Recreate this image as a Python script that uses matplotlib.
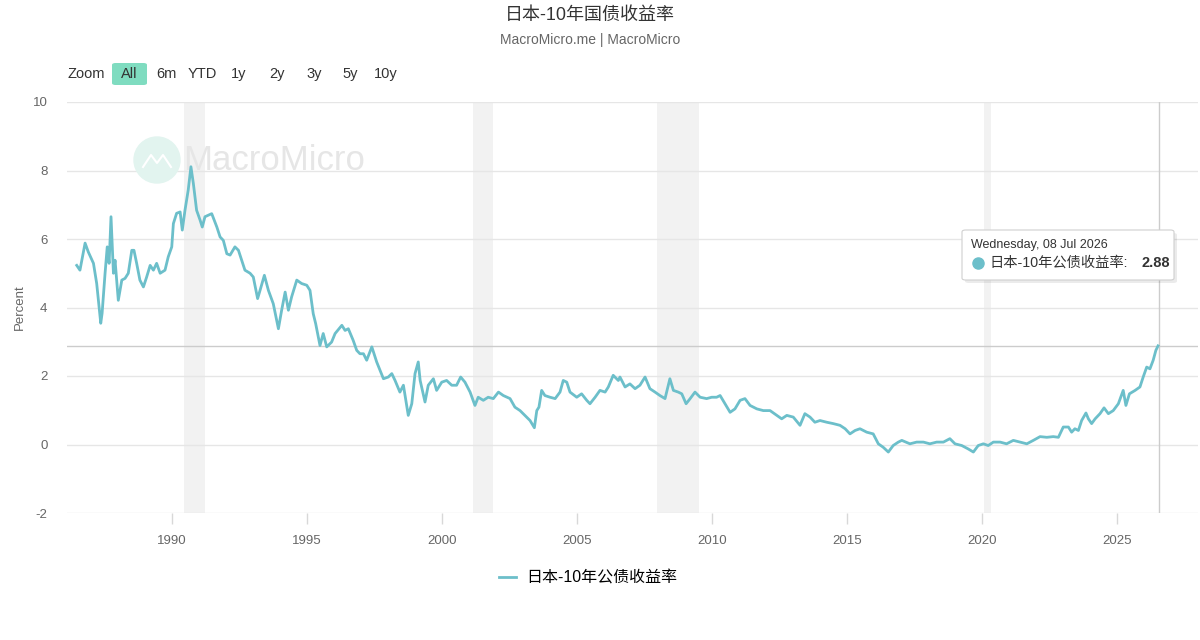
import matplotlib
matplotlib.use("Agg")
import matplotlib.pyplot as plt
from matplotlib.patches import FancyBboxPatch, Ellipse
from matplotlib.lines import Line2D

# decimal year / yield (%)
yrs = [1986.47, 1986.59, 1986.78, 1986.90, 1987.09, 1987.21, 1987.36, 1987.41, 1987.52, 1987.60,
       1987.67, 1987.74, 1987.83, 1987.89, 1988.01, 1988.14, 1988.26, 1988.38, 1988.51, 1988.59,
       1988.69, 1988.81, 1988.94, 1989.06, 1989.19, 1989.31, 1989.43, 1989.56, 1989.74, 1989.86,
       1989.99, 1990.05, 1990.17, 1990.30, 1990.38, 1990.48, 1990.60, 1990.70, 1990.79, 1990.91,
       1991.04, 1991.12, 1991.22, 1991.47, 1991.66, 1991.78, 1991.90, 1992.03, 1992.15, 1992.33,
       1992.46, 1992.58, 1992.70, 1992.89, 1993.01, 1993.17, 1993.26, 1993.42, 1993.57, 1993.75,
       1993.94, 1994.06, 1994.19, 1994.31, 1994.43, 1994.62, 1994.80, 1994.99, 1995.11, 1995.23,
       1995.32, 1995.48, 1995.60, 1995.73, 1995.91, 1996.04, 1996.29, 1996.41, 1996.53, 1996.71,
       1996.84, 1996.96, 1997.09, 1997.21, 1997.40, 1997.58, 1997.83, 1998.01, 1998.14, 1998.26,
       1998.44, 1998.57, 1998.75, 1998.88, 1999.00, 1999.12, 1999.19, 1999.37, 1999.49, 1999.68,
       1999.80, 1999.99, 2000.17, 2000.36, 2000.54, 2000.69, 2000.85, 2001.04, 2001.22, 2001.34,
       2001.53, 2001.71, 2001.90, 2002.09, 2002.27, 2002.52, 2002.70, 2002.89, 2003.07, 2003.26,
       2003.42, 2003.51, 2003.59, 2003.69, 2003.81, 2004.00, 2004.19, 2004.37, 2004.49, 2004.62,
       2004.74, 2004.99, 2005.17, 2005.36, 2005.48, 2005.67, 2005.85, 2006.04, 2006.16, 2006.34,
       2006.53, 2006.59, 2006.78, 2006.96, 2007.15, 2007.33, 2007.52, 2007.70, 2007.89, 2008.07,
       2008.26, 2008.44, 2008.57, 2008.75, 2008.88, 2009.04, 2009.19, 2009.37, 2009.56, 2009.80,
       2009.99, 2010.17, 2010.30, 2010.48, 2010.67, 2010.85, 2011.04, 2011.22, 2011.41, 2011.66,
       2011.90, 2012.15, 2012.40, 2012.58, 2012.77, 2013.01, 2013.26, 2013.44, 2013.63, 2013.81,
       2014.00, 2014.25, 2014.49, 2014.74, 2014.93, 2015.11, 2015.30, 2015.48, 2015.73, 2015.97,
       2016.16, 2016.34, 2016.53, 2016.71, 2016.90, 2017.03, 2017.33, 2017.58, 2017.83, 2018.07,
       2018.32, 2018.57, 2018.81, 2019.00, 2019.25, 2019.49, 2019.68, 2019.86, 2020.05, 2020.23,
       2020.42, 2020.67, 2020.91, 2021.16, 2021.41, 2021.66, 2021.90, 2022.15, 2022.40, 2022.64,
       2022.83, 2023.01, 2023.20, 2023.32, 2023.44, 2023.57, 2023.69, 2023.85, 2023.94, 2024.06,
       2024.19, 2024.37, 2024.52, 2024.68, 2024.86, 2025.05, 2025.23, 2025.33, 2025.46, 2025.67,
       2025.85, 2025.97, 2026.10, 2026.22, 2026.34, 2026.44, 2026.52]
jgb10y = [5.23, 5.09, 5.88, 5.62, 5.29, 4.70, 3.54, 3.83, 5.00, 5.77,
          5.29, 6.65, 5.00, 5.38, 4.21, 4.80, 4.85, 5.00, 5.67, 5.67,
          5.29, 4.80, 4.60, 4.89, 5.23, 5.09, 5.29, 5.00, 5.09, 5.48,
          5.77, 6.45, 6.75, 6.79, 6.26, 6.84, 7.43, 8.11, 7.62, 6.84,
          6.55, 6.35, 6.65, 6.74, 6.35, 6.06, 5.96, 5.57, 5.53, 5.77,
          5.67, 5.38, 5.09, 5.00, 4.89, 4.26, 4.50, 4.94, 4.50, 4.11,
          3.38, 3.92, 4.45, 3.92, 4.31, 4.80, 4.70, 4.65, 4.50, 3.82,
          3.53, 2.89, 3.24, 2.85, 2.99, 3.24, 3.48, 3.33, 3.38, 3.04,
          2.75, 2.65, 2.65, 2.46, 2.85, 2.41, 1.92, 1.97, 2.07, 1.87,
          1.53, 1.73, 0.85, 1.19, 2.07, 2.41, 1.87, 1.24, 1.73, 1.92,
          1.58, 1.82, 1.87, 1.73, 1.73, 1.97, 1.82, 1.53, 1.14, 1.38,
          1.29, 1.38, 1.34, 1.53, 1.43, 1.34, 1.09, 0.99, 0.85, 0.70,
          0.49, 0.99, 1.09, 1.58, 1.43, 1.38, 1.34, 1.53, 1.87, 1.82,
          1.53, 1.38, 1.48, 1.29, 1.19, 1.38, 1.58, 1.53, 1.68, 2.02,
          1.87, 1.97, 1.68, 1.77, 1.63, 1.73, 1.97, 1.63, 1.53, 1.43,
          1.34, 1.92, 1.58, 1.53, 1.48, 1.19, 1.34, 1.53, 1.38, 1.34,
          1.38, 1.38, 1.43, 1.19, 0.94, 1.04, 1.29, 1.34, 1.14, 1.04,
          0.99, 0.99, 0.85, 0.75, 0.85, 0.80, 0.56, 0.90, 0.80, 0.65,
          0.70, 0.65, 0.61, 0.56, 0.46, 0.31, 0.41, 0.46, 0.36, 0.31,
          0.02, -0.08, -0.22, -0.03, 0.07, 0.12, 0.02, 0.07, 0.07, 0.02,
          0.07, 0.07, 0.17, 0.02, -0.03, -0.13, -0.22, -0.03, 0.02, -0.03,
          0.07, 0.07, 0.02, 0.12, 0.07, 0.02, 0.12, 0.23, 0.21, 0.23,
          0.21, 0.51, 0.51, 0.36, 0.46, 0.41, 0.70, 0.92, 0.75, 0.61,
          0.75, 0.90, 1.07, 0.90, 0.99, 1.19, 1.58, 1.14, 1.48, 1.58,
          1.68, 1.97, 2.26, 2.21, 2.46, 2.75, 2.88]

# shaded recession periods
rec_start = [1990.46, 2001.16, 2007.95, 2020.09]
rec_end = [1991.22, 2001.90, 2009.53, 2020.32]

yticks = [-2, 0, 2, 4, 6, 8, 10]
xticks = [1990, 1995, 2000, 2005, 2010, 2015, 2020, 2025]
range_buttons = ["All", "6m", "YTD", "1y", "2y", "3y", "5y", "10y"]
button_x = [129, 166, 202, 239, 277, 314, 350, 386]

title = "日本-10年国债收益率"
subtitle = "MacroMicro.me | MacroMicro"
series_name = "日本-10年公债收益率"
tip_date = "Wednesday, 08 Jul 2026"

LINE = "#6cbfca"
W, H = 1200, 640

plt.rcParams['font.family'] = ['Liberation Sans', 'Noto Sans CJK SC', 'DejaVu Sans']
plt.rcParams['axes.unicode_minus'] = False


def px(x, y):
    return x / W, 1 - y / H


fig = plt.figure(figsize=(12, 6.4), dpi=100, facecolor="white")
ax = fig.add_axes([67 / W, 1 - 513 / H, (1198 - 67) / W, (513 - 102) / H])

for s, e in zip(rec_start, rec_end):
    ax.axvspan(s, e, color="#f2f2f2", zorder=0.3, lw=0)

ax.plot(yrs, jgb10y, color=LINE, lw=2.0, zorder=3, solid_joinstyle="round")

ax.set_xlim(1986.11, 2028.0)
ax.set_ylim(-2, 10)
ax.set_yticks(yticks)
ax.set_xticks(xticks)
ax.grid(axis="y", color="#e6e6e6", lw=1)
ax.set_axisbelow(True)
for sp in ax.spines.values():
    sp.set_visible(False)
ax.tick_params(axis="y", length=0, labelsize=9.5, labelcolor="#666666", pad=14)
ax.tick_params(axis="x", length=8, width=1, color="#d8d8d8", labelsize=9.5,
               labelcolor="#666666", pad=8)
ax.set_ylabel("Percent", fontsize=9.5, color="#666666", labelpad=5)

# crosshair on last point
ax.axhline(jgb10y[-1], color="#cccccc", lw=1, zorder=2)
ax.axvline(yrs[-1] + 0.03, color="#cccccc", lw=1, zorder=2)

# watermark
wx, wy = px(157, 160)
fig.patches.append(Ellipse((wx, wy), 46 / W, 46 / H, transform=fig.transFigure,
                           color="#e2f4ef", zorder=0.4))
fig.lines.append(Line2D([x / W for x in [143, 151, 157, 163, 171]],
                        [1 - y / H for y in [167, 155, 163, 155, 167]],
                        color="white", lw=1.5, transform=fig.transFigure, zorder=0.45))
ax.text(183 / W, 1 - 161 / H, "MacroMicro", transform=fig.transFigure,
        fontsize=25, color="#e6e6e6", fontweight="normal", va="center", ha="left", zorder=0.4)

# title
fig.text(*px(590, 15), title, ha="center", va="center", fontsize=13, color="#333333")
fig.text(*px(590, 40), subtitle, ha="center", va="center", fontsize=10, color="#666666")

# range selector
fig.text(*px(86, 74), "Zoom", ha="center", va="center", fontsize=10.5, color="#333333")
fig.patches.append(FancyBboxPatch(px(112, 85), 35 / W, 22 / H, transform=fig.transFigure,
                                  boxstyle="round,pad=0,rounding_size=0.003",
                                  fc="#7fdcc0", ec="none"))
for lab, bx in zip(range_buttons, button_x):
    fig.text(*px(bx, 74), lab, ha="center", va="center", fontsize=10.5, color="#333333")

# tooltip
fig.patches.append(FancyBboxPatch(px(965, 283), 212 / W, 50 / H, transform=fig.transFigure,
                                  boxstyle="round,pad=0,rounding_size=0.003",
                                  fc="#000000", ec="none", alpha=0.08, zorder=5))
fig.patches.append(FancyBboxPatch(px(962, 280), 212 / W, 50 / H, transform=fig.transFigure,
                                  boxstyle="round,pad=0,rounding_size=0.003",
                                  fc="white", ec="#d0d0d0", lw=0.8, zorder=6))
fig.text(*px(971, 245), tip_date, ha="left", va="center", fontsize=9, color="#333333", zorder=7)
fig.lines.append(Line2D([978 / W], [1 - 263 / H], marker="o", ms=8, color=LINE,
                        transform=fig.transFigure, zorder=7))
fig.text(*px(989, 263), series_name + ":", ha="left", va="center", fontsize=10.3,
         color="#333333", zorder=7)
fig.text(*px(1170, 263), f"{jgb10y[-1]:.2f}", ha="right", va="center", fontsize=10.5,
         color="#333333", fontweight="bold", zorder=7)

# legend
fig.legend([Line2D([0], [0], color=LINE, lw=2)], [series_name], loc="center",
           bbox_to_anchor=px(588, 578), frameon=False, fontsize=11.5,
           handlelength=1.1, handletextpad=0.6)

fig.savefig("out.png", dpi=100, facecolor="white")
